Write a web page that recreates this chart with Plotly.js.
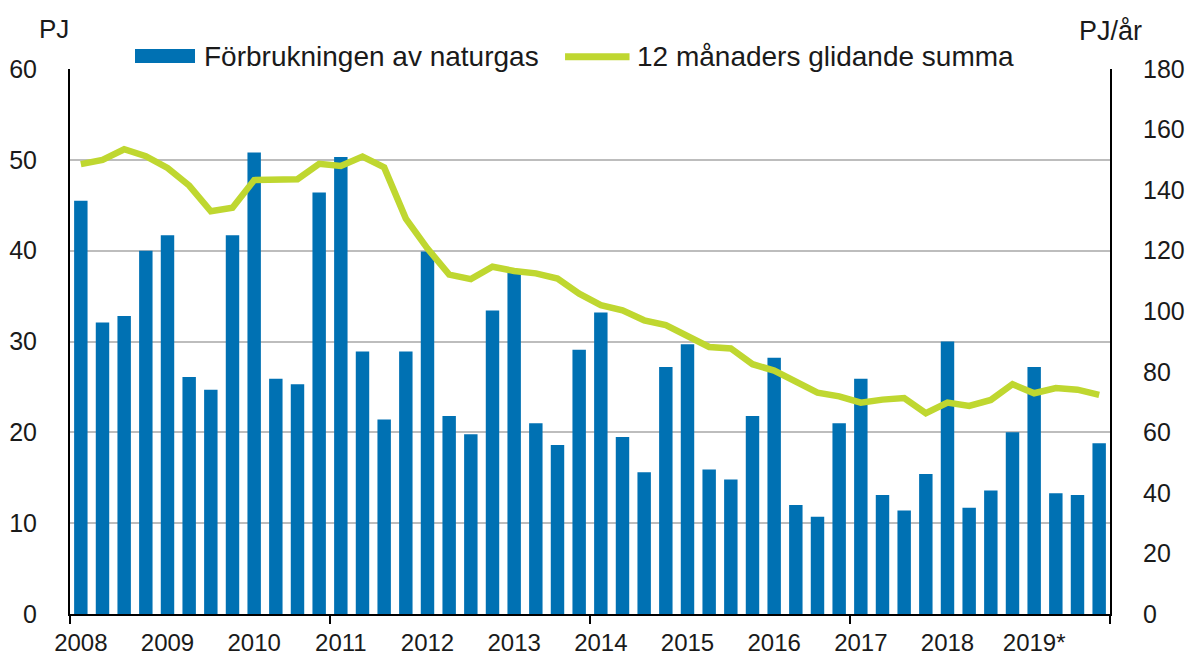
<!DOCTYPE html>
<html>
<head>
<meta charset="utf-8">
<script src="https://cdn.plot.ly/plotly-3.0.1.min.js"></script>
<style>html,body{margin:0;padding:0;background:#fff;}#chart{width:1187px;height:657px;}</style>
</head>
<body>
<div id="chart"></div>
<script>
// Quarterly categories 2008 Q1 .. 2019 Q4
var years = ["2008","2009","2010","2011","2012","2013","2014","2015","2016","2017","2018","2019*"];
var quarters = [];
years.forEach(function (y) { ["K1","K2","K3","K4"].forEach(function (q) { quarters.push(y + " " + q); }); });

// Förbrukningen av naturgas (PJ), quarterly
var consumption = [45.5, 32.1, 32.8, 40.0, 41.7, 26.1, 24.7, 41.7,
                   50.8, 25.9, 25.3, 46.4, 50.3, 28.9, 21.4, 28.9,
                   39.9, 21.8, 19.8, 33.4, 37.6, 21.0, 18.6, 29.1,
                   33.2, 19.5, 15.6, 27.2, 29.7, 15.9, 14.8, 21.8,
                   28.2, 12.0, 10.7, 21.0, 25.9, 13.1, 11.4, 15.4,
                   30.0, 11.7, 13.6, 20.0, 27.2, 13.3, 13.1, 18.8];

// 12 månaders glidande summa (PJ/år)
var rolling = [148.6, 150.0, 153.5, 151.2, 147.3, 141.5, 133.0, 134.2,
               143.3, 143.3, 143.6, 148.7, 148.0, 151.1, 147.5, 130.6,
               120.7, 112.1, 110.6, 114.7, 113.3, 112.5, 110.8, 105.8,
               102.0, 100.3, 97.0, 95.4, 91.5, 88.2, 87.7, 82.5,
               80.4, 77.0, 73.1, 71.9, 69.8, 70.8, 71.3, 66.3,
               69.8, 68.7, 70.7, 75.9, 72.9, 74.6, 74.1, 72.4];

var seriesNames = ["Förbrukningen av naturgas", "12 månaders glidande summa"];
var leftUnit = "PJ", rightUnit = "PJ/år";

var xIdx = quarters.map(function (_, i) { return i; });
var yearTickVals = years.map(function (_, i) { return i * 4; });
var boundaryTicks = [-0.5, 11.5, 23.5, 35.5, 47.5];

var BLUE = "#0071B3", GREEN = "#BFD730";
var FONT = "Liberation Sans, Arial, sans-serif";

var traces = [
  { type: "bar", x: xIdx, y: consumption, name: seriesNames[0], hovertext: quarters, textposition: "none",
    marker: { color: BLUE, line: { width: 0 } }, yaxis: "y", showlegend: false },
  { type: "scatter", mode: "lines", x: xIdx, y: rolling, name: seriesNames[1], hovertext: quarters,
    line: { color: GREEN, width: 6.5, shape: "linear" }, yaxis: "y2", showlegend: false }
];

var layout = {
  width: 1187, height: 657,
  margin: { l: 70, r: 77, t: 69, b: 43 },
  paper_bgcolor: "#fff", plot_bgcolor: "#fff",
  font: { family: FONT, size: 25, color: "#1a1a1a" },
  bargap: 0.38,
  showlegend: false,
  xaxis: {
    range: [-0.5, 47.5], tickmode: "array", tickvals: yearTickVals, ticktext: years,
    ticks: "", showgrid: false, zeroline: false, showline: true, linecolor: "#000", linewidth: 2,
    tickfont: { size: 24, family: FONT, color: "#1a1a1a" }, ticklabelstandoff: 6,
    minor: { tickmode: "array", tickvals: boundaryTicks, ticks: "outside", ticklen: 8, tickwidth: 2, tickcolor: "#000", showgrid: false },
    fixedrange: true
  },
  yaxis: {
    range: [0, 60], dtick: 10, tick0: 0, showgrid: true, gridcolor: "#BDBDBD", gridwidth: 2,
    zeroline: false, showline: true, linecolor: "#000", linewidth: 2, ticks: "",
    tickfont: { size: 25, family: FONT, color: "#1a1a1a" }, ticklabelstandoff: 26, fixedrange: true
  },
  yaxis2: {
    range: [0, 180], dtick: 20, tick0: 0, overlaying: "y", side: "right", showgrid: false,
    zeroline: false, showline: true, linecolor: "#000", linewidth: 2, ticks: "",
    tickfont: { size: 25, family: FONT, color: "#1a1a1a" }, ticklabelstandoff: 26, fixedrange: true
  },
  shapes: [
    { type: "rect", xref: "paper", yref: "paper", x0: 0.0433, x1: 0.925, y0: 0.982, y1: 1.06,
      fillcolor: "#fff", line: { width: 0 }, layer: "above" },
    { type: "rect", xref: "paper", yref: "paper", x0: 0.0625, x1: 0.1202, y0: 1.011, y1: 1.0367,
      fillcolor: BLUE, line: { width: 0 }, layer: "above" },
    { type: "line", xref: "paper", yref: "paper", x0: 0.476, x1: 0.538, y0: 1.0225, y1: 1.0225,
      line: { color: GREEN, width: 7 }, layer: "above" }
  ],
  annotations: [
    { xref: "paper", yref: "paper", x: 0.1265, y: 1.0225, xanchor: "left", yanchor: "middle",
      text: seriesNames[0], showarrow: false, font: { size: 28, family: FONT, color: "#1a1a1a" } },
    { xref: "paper", yref: "paper", x: 0.5435, y: 1.0225, xanchor: "left", yanchor: "middle",
      text: seriesNames[1], showarrow: false, font: { size: 28, family: FONT, color: "#1a1a1a" } },
    { xref: "paper", yref: "paper", x: -0.032, y: 1.073, xanchor: "left", yanchor: "middle",
      text: leftUnit, showarrow: false, font: { size: 26, family: FONT, color: "#1a1a1a" } },
    { xref: "paper", yref: "paper", x: 0.968, y: 1.07, xanchor: "left", yanchor: "middle",
      text: rightUnit, showarrow: false, font: { size: 27, family: FONT, color: "#1a1a1a" } }
  ]
};

Plotly.newPlot("chart", traces, layout, { displayModeBar: false, staticPlot: true });
</script>
</body>
</html>
